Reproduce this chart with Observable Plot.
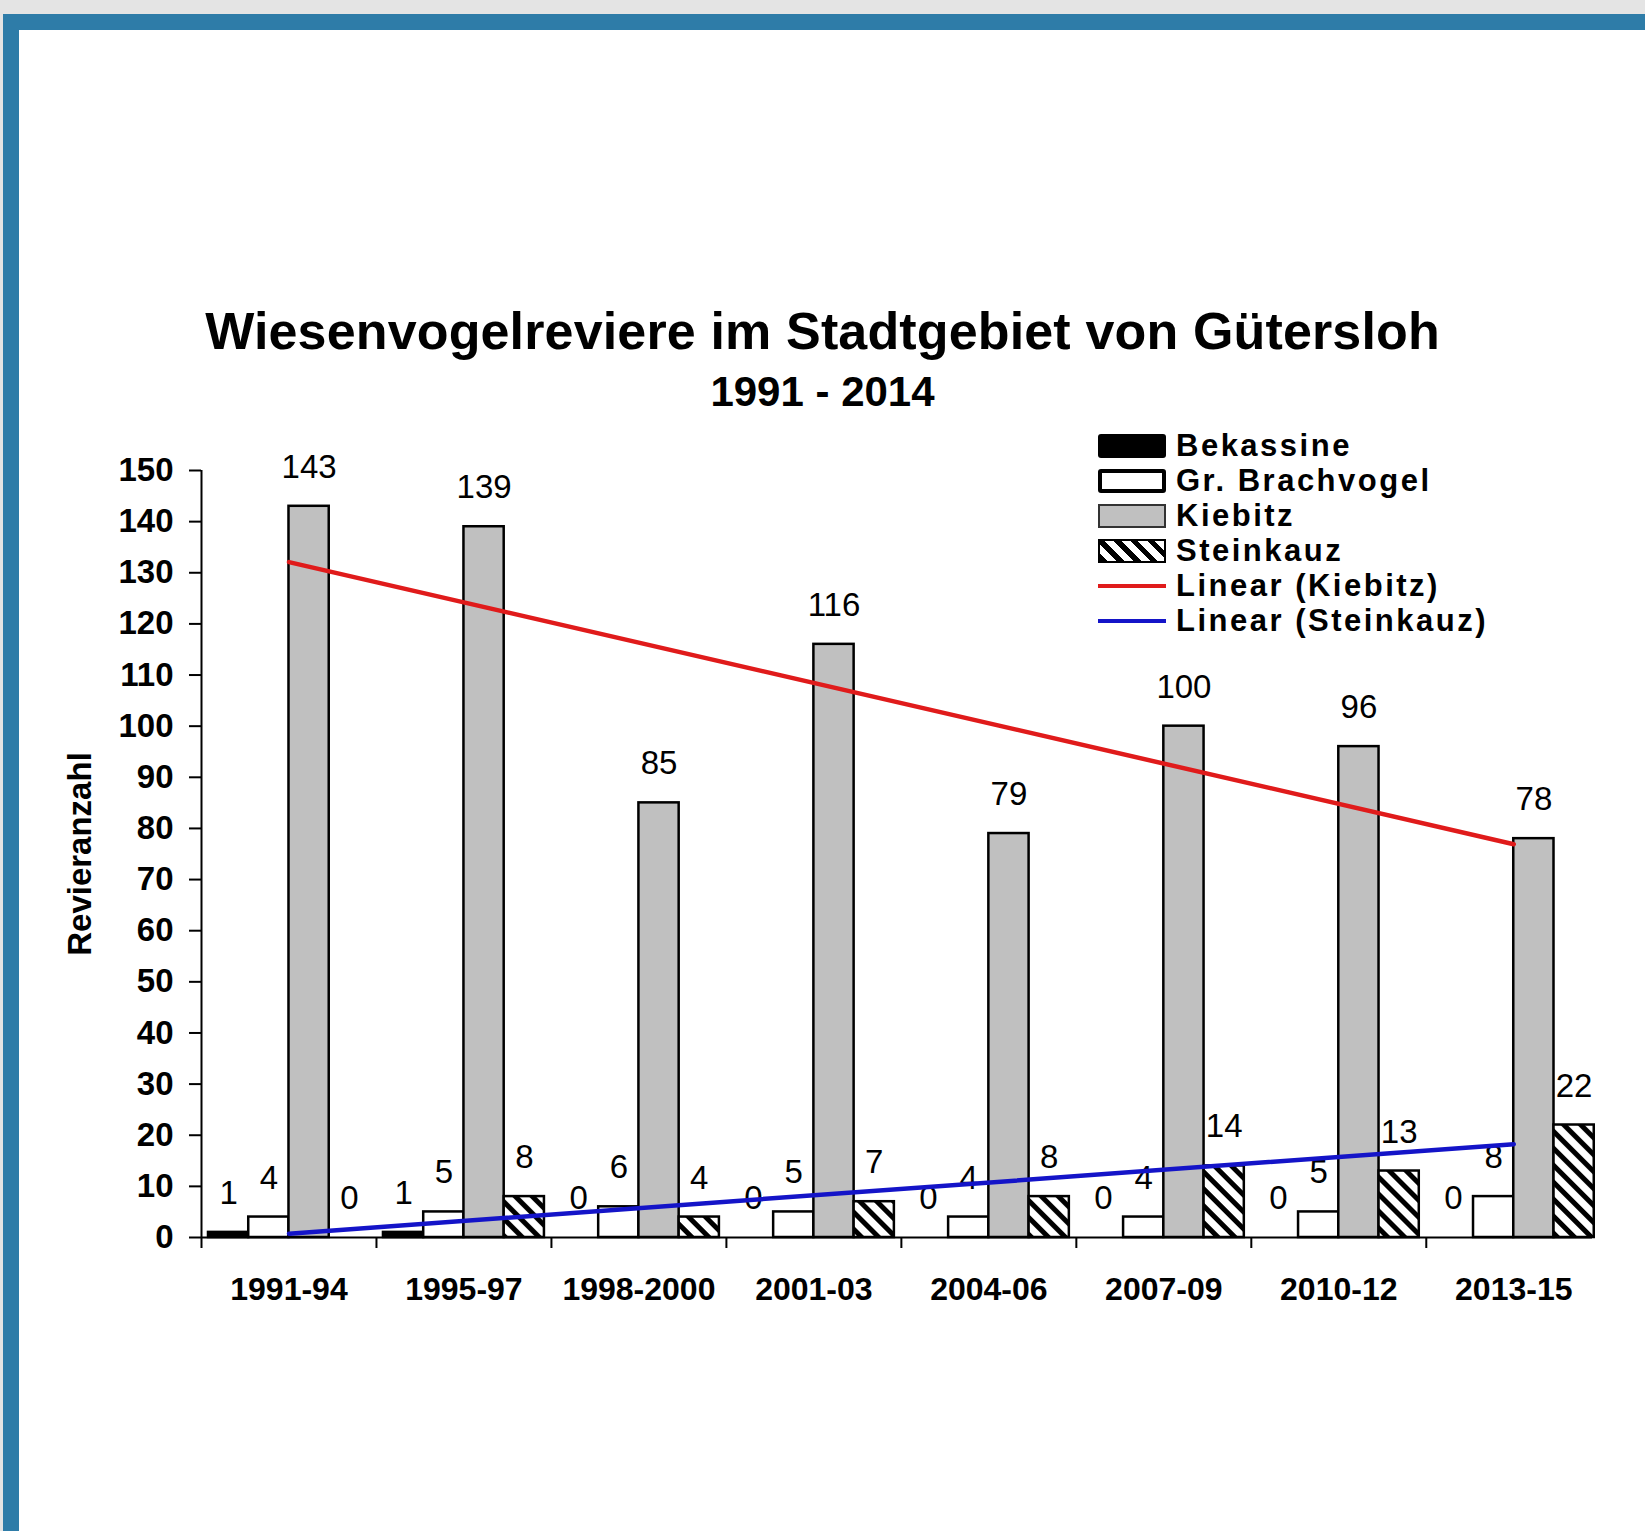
<!DOCTYPE html>
<html><head><meta charset="utf-8">
<script src="https://cdn.jsdelivr.net/npm/d3@7"></script>
<script src="https://cdn.jsdelivr.net/npm/@observablehq/plot@0.6"></script>
<style>
html,body{margin:0;padding:0;background:#e4e4e4;}
#page{position:relative;width:1645px;height:1531px;overflow:hidden;background:#e4e4e4;font-family:"Liberation Sans",Arial,sans-serif;color:#000;}
#topband{position:absolute;left:3px;top:14px;width:1642px;height:16px;background:#2e7ca8;}
#leftband{position:absolute;left:3px;top:14px;width:16px;height:1517px;background:#2e7ca8;}
#white{position:absolute;left:19px;top:30px;right:0;bottom:0;background:#fff;}
#title{position:absolute;left:0;width:1645px;top:305px;text-align:center;font-weight:bold;font-size:52px;line-height:52px;letter-spacing:0.15px;white-space:nowrap;}
#subtitle{position:absolute;left:0;width:1645px;top:371px;text-align:center;font-weight:bold;font-size:42px;line-height:42px;white-space:nowrap;}
#chart{position:absolute;left:0;top:430px;}
#legend{position:absolute;left:1098px;top:428px;}
.row{height:35px;display:flex;align-items:center;font-weight:bold;font-size:31px;letter-spacing:2.5px;line-height:35px;white-space:nowrap;}
.sw{width:68px;height:24px;box-sizing:border-box;margin-right:10px;flex:none;}
.ln{width:68px;height:4px;margin-right:10px;flex:none;}
</style>
</head>
<body>
<div id="page">
  <div id="topband"></div>
  <div id="leftband"></div>
  <div id="white"></div>
  <div id="title"></div>
  <div id="subtitle"></div>
  <div id="chart"></div>
  <div id="legend"></div>
</div>
<script>
// ---- data ----
const titleText = "Wiesenvogelreviere im Stadtgebiet von Gütersloh";
const subtitleText = "1991 - 2014";
const yLabel = "Revieranzahl";
const categories = ["1991-94","1995-97","1998-2000","2001-03","2004-06","2007-09","2010-12","2013-15"];
const seriesNames = ["Bekassine","Gr. Brachvogel","Kiebitz","Steinkauz"];
const bekassine  = [1, 1, 0, 0, 0, 0, 0, 0];
const brachvogel = [4, 5, 6, 5, 4, 4, 5, 8];
const kiebitz    = [143, 139, 85, 116, 79, 100, 96, 78];
const steinkauz  = [0, 8, 4, 7, 8, 14, 13, 22];
const yTicks = d3.range(0, 151, 10);
const trendNames = ["Linear (Kiebitz)", "Linear (Steinkauz)"];

// ---- styles ----
const seriesFills = ["#000000", "#ffffff", "#c0c0c0", "url(#hatch)"];
const trendColors = ["#e01b1b", "#1414c8"];
const FONT = '"Liberation Sans", Arial, sans-serif';

document.getElementById("title").textContent = titleText;
document.getElementById("subtitle").textContent = subtitleText;

// ---- derived table ----
const seriesValues = [bekassine, brachvogel, kiebitz, steinkauz];
const PAD = 0.04, BW = 0.23;
const rows = [];
categories.forEach((c, i) => seriesValues.forEach((vals, j) => {
  const x1 = i + PAD + j * BW;
  rows.push({category: c, series: seriesNames[j], value: vals[i], x1, x2: x1 + BW, xm: x1 + BW / 2});
}));
const trendK = categories.map((c, i) => ({xc: i + 0.5, value: kiebitz[i]}));
const trendS = categories.map((c, i) => ({xc: i + 0.5, value: steinkauz[i]}));

function hatchDefs() {
  const defs = d3.create("svg:defs");
  const p = defs.append("pattern").attr("id", "hatch").attr("patternUnits", "userSpaceOnUse")
    .attr("width", 12).attr("height", 12).attr("patternTransform", "rotate(-45)");
  p.append("rect").attr("width", 12).attr("height", 12).attr("fill", "white");
  p.append("rect").attr("width", 5).attr("height", 12).attr("fill", "black");
  return defs.node();
}

const chart = Plot.plot({
  width: 1645, height: 900,
  marginLeft: 201, marginRight: 53, marginTop: 40, marginBottom: 93,
  x: {domain: [0, categories.length - 0.05]},
  y: {domain: [0, 150]},
  color: {domain: seriesNames, range: seriesFills},
  style: {fontFamily: FONT, color: "black", background: "transparent", overflow: "visible"},
  marks: [
    hatchDefs,
    Plot.rectY(rows, {x1: "x1", x2: "x2", y: "value", fill: "series", stroke: "black", strokeWidth: 2.5}),
    Plot.ruleY([0], {strokeWidth: 2}),
    Plot.ruleX([0], {strokeWidth: 2}),
    Plot.axisY({ticks: yTicks, tickSize: 12, tickPadding: 16, fontSize: 33, fontWeight: "bold",
      strokeWidth: 2, label: yLabel, labelAnchor: "center", labelOffset: 134, labelArrow: "none"}),
    Plot.axisX({ticks: d3.range(0, categories.length), tickSize: 11, tickFormat: () => "", strokeWidth: 2, label: null}),
    Plot.axisX({ticks: categories.map((c, i) => i + 0.5), tickSize: 0, tickPadding: 40,
      tickFormat: d => categories[Math.floor(d)], fontSize: 32, fontWeight: "bold", label: null}),
    Plot.text(rows, {x: "xm", y: "value", text: d => String(d.value), dy: -39, fontSize: 33}),
    Plot.linearRegressionY(trendK, {x: "xc", y: "value", stroke: trendColors[0], strokeWidth: 4.5, ci: 0}),
    Plot.linearRegressionY(trendS, {x: "xc", y: "value", stroke: trendColors[1], strokeWidth: 4.5, ci: 0})
  ]
});
document.getElementById("chart").appendChild(chart);

// ---- legend ----
const legend = d3.select("#legend");
seriesNames.forEach((name, j) => {
  const row = legend.append("div").attr("class", "row");
  const sw = row.append("div").attr("class", "sw");
  if (j === 0) sw.style("background", "#000").style("border-radius", "3px");
  if (j === 1) sw.style("background", "#fff").style("border", "4px solid #000").style("border-radius", "3px");
  if (j === 2) sw.style("background", "#c0c0c0").style("border", "2px solid #333");
  if (j === 3) sw.style("background", "repeating-linear-gradient(45deg, #000 0 5px, #fff 5px 12px)").style("border", "2px solid #000");
  row.append("span").text(name);
});
trendNames.forEach((name, j) => {
  const row = legend.append("div").attr("class", "row");
  row.append("div").attr("class", "ln").style("background", trendColors[j]);
  row.append("span").text(name);
});
</script>
</body></html>
